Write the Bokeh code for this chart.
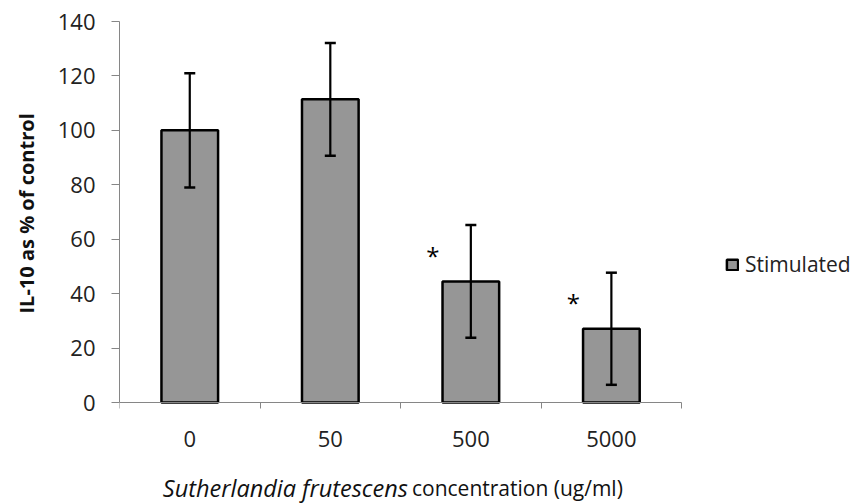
from bokeh.plotting import figure
from bokeh.models import (ColumnDataSource, Range1d, FixedTicker, LinearAxis, Whisker,
                          TeeHead, Legend, LegendItem, Label, Title)
from bokeh.core.properties import value
from bokeh.embed import file_html
from bokeh.resources import INLINE

# ---- data ----
categories = ["0", "50", "500", "5000"]
stimulated = [100.0, 111.4, 44.5, 27.1]
sem = [21.0, 20.7, 20.7, 20.6]
significance = ["", "", "*", "*"]
y_ticks = [0, 20, 40, 60, 80, 100, 120, 140]

FONT = "Open Sans"
pos = [i + 0.5 for i in range(len(categories))]
boundaries = list(range(len(categories) + 1))

src = ColumnDataSource(dict(
    x=pos, top=stimulated,
    upper=[v + e for v, e in zip(stimulated, sem)],
    lower=[v - e for v, e in zip(stimulated, sem)],
))
star_src = ColumnDataSource(dict(
    x=[p - 0.27 for p in pos],
    y=[v + 9.5 for v in stimulated],
    t=significance,
))

LEFT, TOP, W, H = 115, 21, 855, 504
PX_X = 141.3        # pixels per category
PX_Y = 381 / 140.0  # pixels per y unit
x_hi = (W - LEFT) / PX_X
y_lo = 140 - (H - TOP) / PX_Y

p = figure(width=W, height=H, output_backend="svg", toolbar_location=None,
           x_range=Range1d(0, x_hi), y_range=Range1d(y_lo, 140),
           x_axis_type=None, y_axis_type=None,
           min_border_left=LEFT, min_border_right=0, min_border_top=TOP, min_border_bottom=0)
p.outline_line_color = None
p.xgrid.visible = False
p.ygrid.visible = False
p.background_fill_color = "white"

# y axis
yax = LinearAxis(ticker=FixedTicker(ticks=y_ticks), bounds=(0, 140))
yax.axis_line_color = "#868686"
yax.major_tick_line_color = "#868686"
yax.major_tick_out = 8
yax.major_tick_in = 0
yax.minor_tick_line_color = None
yax.major_label_standoff = 16
yax.major_label_text_font = FONT
yax.major_label_text_font_size = "22px"
yax.major_label_text_color = "#222222"
p.add_layout(yax, "left")

# y axis title, placed beside the axis and aligned with the 0..140 span
ytitle = Title(text="IL-10 as % of control", align="left", offset=191,
               vertical_align="top", standoff=25,
               text_font=FONT, text_font_style="bold", text_font_size="20px",
               text_color="#111111")
p.add_layout(ytitle, "left")

# x axis at y = 0: labels at category centres, tick marks at boundaries
xax = LinearAxis(ticker=FixedTicker(ticks=pos, minor_ticks=boundaries),
                 major_label_overrides={pv: c for pv, c in zip(pos, categories)},
                 bounds=(0, len(categories)), fixed_location=0)
xax.axis_line_color = "#868686"
xax.major_tick_line_color = None
xax.minor_tick_line_color = "#868686"
xax.minor_tick_out = 6
xax.minor_tick_in = 0
xax.major_tick_out = 0
xax.major_tick_in = 0
xax.major_label_standoff = 22
xax.major_label_text_font = FONT
xax.major_label_text_font_size = "22px"
xax.major_label_text_color = "#222222"
p.add_layout(xax, "below")

bars = p.vbar(x="x", top="top", width=0.403, bottom=0, source=src,
              fill_color="#969696", line_color="black", line_width=2.5)

wh = Whisker(base="x", upper="upper", lower="lower", source=src, level="overlay",
             line_color="black", line_width=2.2,
             upper_head=TeeHead(size=11, line_color="black", line_width=2.5),
             lower_head=TeeHead(size=11, line_color="black", line_width=2.5))
p.add_layout(wh)

p.text(x="x", y="y", text="t", source=star_src, text_font=value(FONT),
       text_font_size="24px", text_align="center", text_baseline="middle", text_color="black")

# x axis title (mixed italic / regular)
p.add_layout(Label(x=2.052, y=-31.6, text="Sutherlandia frutescens", text_font=FONT,
                   text_font_style="italic", text_font_size="23.5px", text_align="right",
                   text_baseline="middle", text_color="#111111"))
p.add_layout(Label(x=2.081, y=-31.6, text="concentration (ug/ml)", text_font=FONT,
                   text_font_size="21px", text_align="left",
                   text_baseline="middle", text_color="#111111"))

legend = Legend(items=[LegendItem(label="Stimulated", renderers=[bars])],
                location=(606, 226), border_line_color=None, background_fill_alpha=0,
                padding=0, margin=0, glyph_width=14, glyph_height=13, label_standoff=6,
                label_text_font=FONT, label_text_font_size="21px", label_text_color="#222222")
p.add_layout(legend, "center")

open("out.html", "w").write(file_html(p, INLINE))
